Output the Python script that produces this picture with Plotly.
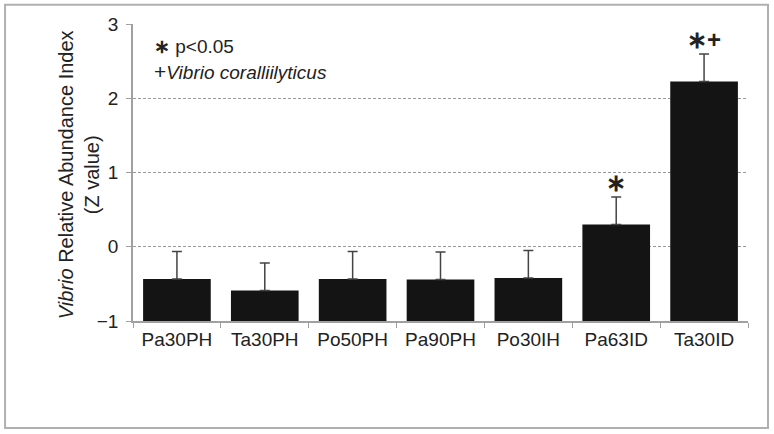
import plotly.graph_objects as go

groups = ["Pa30PH", "Ta30PH", "Po50PH", "Pa90PH", "Po30IH", "Pa63ID", "Ta30ID"]
z_values = [-0.435, -0.59, -0.435, -0.44, -0.42, 0.30, 2.225]
z_errors = [0.37, 0.37, 0.37, 0.37, 0.37, 0.37, 0.37]
marks = ["", "", "", "", "", "∗", "∗+"]
floor = -1

fig = go.Figure()
# bars rise from the axis floor (-1), not from zero; error bars sit on the top
fig.add_trace(go.Bar(
    x=groups,
    y=[v - floor for v in z_values],
    base=floor,
    marker=dict(color="#141414", line=dict(width=0)),
    error_y=dict(type="data", array=z_errors, arrayminus=[0] * len(groups),
                 color="#444444", thickness=1.5, width=5),
    width=0.77,
    showlegend=False,
    hoverinfo="skip",
))

for g, v, e, m in zip(groups, z_values, z_errors, marks):
    if m:
        fig.add_annotation(x=g, y=v + e, text="<b>" + m + "</b>", showarrow=False,
                           yanchor="bottom", yshift=-1,
                           font=dict(size=24, color="#222222"))

fig.add_annotation(xref="paper", yref="paper", x=0.031, y=0.923, xanchor="left",
                   yanchor="middle",
                   text="<b>∗</b> p<0.05",
                   showarrow=False, font=dict(size=19, color="#222222"))
fig.add_annotation(xref="paper", yref="paper", x=0.031, y=0.839, xanchor="left",
                   yanchor="middle",
                   text='<span style="font-size:21px">+</span><i>Vibrio coralliilyticus</i>',
                   showarrow=False, font=dict(size=19, color="#222222"))

# y axis title as a rotated annotation
fig.add_annotation(xref="paper", yref="paper", x=-0.088, y=0.494,
                   xanchor="center", yanchor="middle", textangle=-90,
                   text="<i>Vibrio</i> Relative Abundance Index<br>(Z value)",
                   showarrow=False, font=dict(size=20, color="#222222"))

fig.add_shape(type="rect", xref="paper", yref="paper",
              x0=-0.208, x1=1.0325, y0=-0.3606, y1=1.065,
              line=dict(color="#b0b0b0", width=2))

fig.update_layout(
    width=774, height=434,
    margin=dict(l=133, r=26, t=24, b=113),
    plot_bgcolor="white", paper_bgcolor="white",
    font=dict(family="Liberation Sans, Arial, sans-serif", size=19, color="#222222"),
    bargap=0.23,
)
fig.update_xaxes(
    showline=True, linecolor="#a0a0a0", linewidth=1.5,
    ticks="outside", tickson="boundaries", ticklen=5, tickcolor="#a0a0a0",
    showgrid=False, tickfont=dict(size=19), automargin=False,
)
fig.update_yaxes(
    range=[-1, 3], tickvals=[-1, 0, 1, 2, 3],
    showline=True, linecolor="#a0a0a0", linewidth=1.5,
    ticks="outside", ticklen=5, tickcolor="#a0a0a0", ticklabelstandoff=4,
    showgrid=True, gridcolor="#999999", griddash="3px,2px", gridwidth=1,
    zeroline=False, tickfont=dict(size=19), automargin=False,
)

# drop the page's default body margin so the figure sits at the window corner
fig.write_html("out.html", config={"displayModeBar": False},
               post_script="document.body.style.margin='0';")
